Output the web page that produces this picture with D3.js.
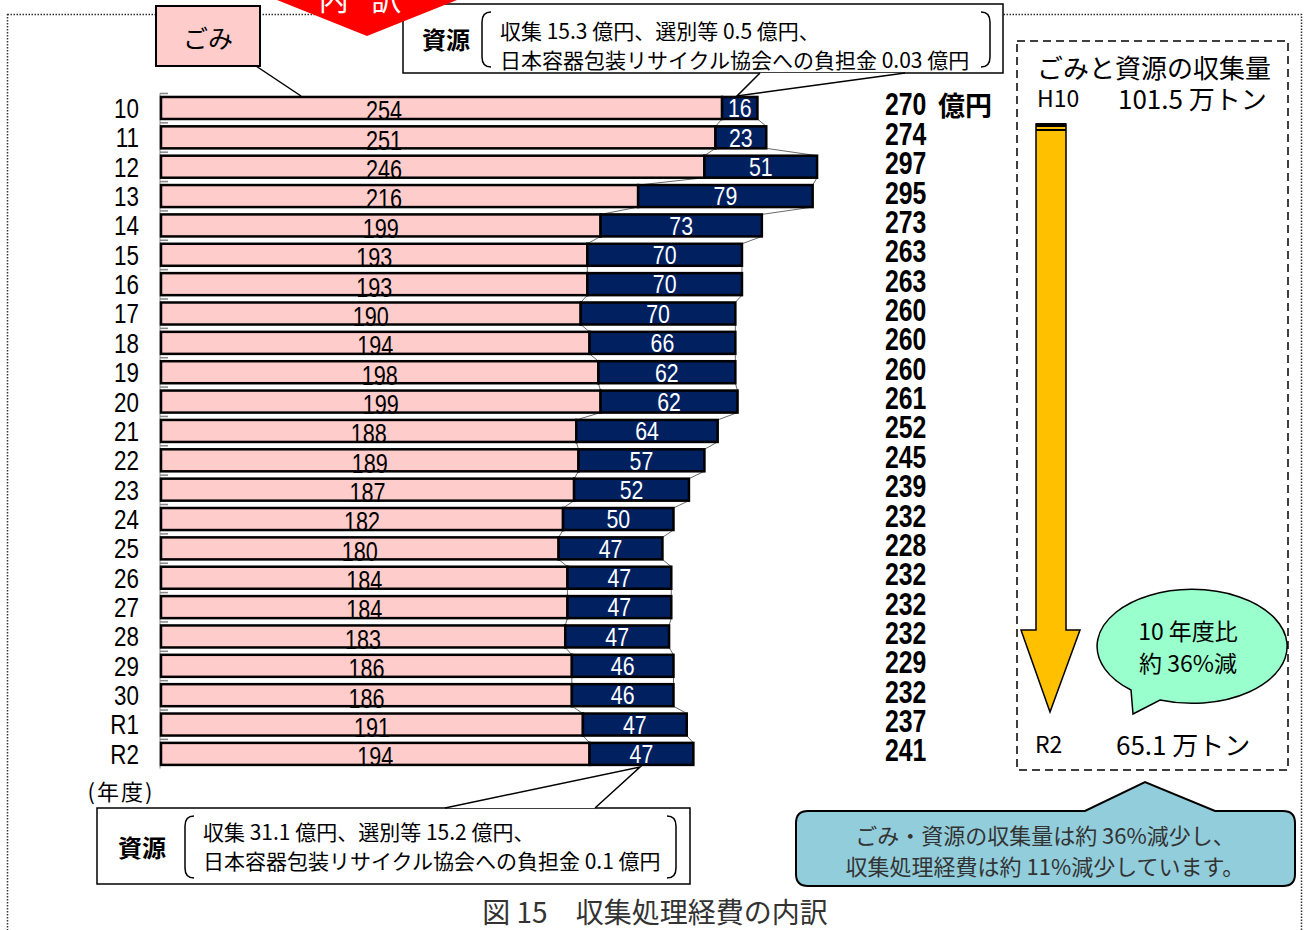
<!DOCTYPE html>
<html><head><meta charset="utf-8">
<script src="https://cdn.jsdelivr.net/npm/d3@7"></script>
<style>body{margin:0;background:#fff}svg{display:block}</style>
</head><body>
<svg id="c" width="1306" height="930"></svg>
<script>
const categories = ["10","11","12","13","14","15","16","17","18","19","20","21","22","23","24","25","26","27","28","29","30","R1","R2"];
const garbage  = [254,251,246,216,199,193,193,190,194,198,199,188,189,187,182,180,184,184,183,186,186,191,194];
const resource = [16,23,51,79,73,70,70,70,66,62,62,64,57,52,50,47,47,47,47,46,46,47,47];
const totals   = [270,274,297,295,273,263,263,260,260,260,261,252,245,239,232,228,232,232,232,229,232,237,241];
const totalUnit = "億円";
const topNote = ["収集 15.3 億円、選別等 0.5 億円、","日本容器包装リサイクル協会への負担金 0.03 億円"];
const bottomNote = ["収集 31.1 億円、選別等 15.2 億円、","日本容器包装リサイクル協会への負担金 0.1 億円"];
const volumeTitle = "ごみと資源の収集量";
const volumeStart = ["H10","101.5 万トン"];
const volumeEnd = ["R2","65.1 万トン"];
const bubbleText = ["10 年度比","約 36%減"];
const summaryText = ["ごみ・資源の収集量は約 36%減少し、","収集処理経費は約 11%減少しています。"];
const chartTitle = "図 15　収集処理経費の内訳";

const JP = "'Noto Sans CJK JP', sans-serif";
const NUM = "'Liberation Sans', Arial, sans-serif";
const PINK = "#ffcccc", NAVY = "#002060";

const svg = d3.select("#c");
const data = categories.map((c,i)=>({c, g:garbage[i], r:resource[i], t:totals[i]}));

const x = d3.scaleLinear().domain([0,300]).range([161, 161+300*2.209]);
const y = d3.scaleBand().domain(categories).range([93.3, 93.3+23*29.36]).paddingInner(0.25).paddingOuter(0.125);
const bh = y.bandwidth();

// condensed numeric text helper
function numText(sel, fx, fy, txt, opts){
  const g = sel.selectAll(null).data(data).join("g")
    .attr("transform", d=>`translate(${fx(d)},${fy(d)}) scale(${opts.sx},1)`);
  g.append("text").attr("text-anchor",opts.anchor||"middle").attr("dominant-baseline","central")
    .attr("font-family",NUM).attr("font-size",opts.fs).attr("font-weight",opts.bold?"bold":"normal")
    .attr("fill",opts.fill||"#000").text(txt);
}

// outer dotted frame
svg.append("rect").attr("x",7.5).attr("y",14.5).attr("width",1294).attr("height",940)
  .attr("fill","none").attr("stroke","#333").attr("stroke-width",1.5).attr("stroke-dasharray","1.5,1.5");

// axis line + ticks
svg.append("line").attr("x1",160).attr("x2",160).attr("y1",y.range()[0]).attr("y2",y.range()[1])
  .attr("stroke","#888").attr("stroke-width",1);
svg.append("g").selectAll("line").data(data).join("line")
  .attr("x1",160).attr("x2",168)
  .attr("y1",d=>y(d.c)-3.5).attr("y2",d=>y(d.c)-3.5)
  .attr("stroke","#888").attr("stroke-width",1.5);

// series lines
const pairs = d3.pairs(data);
const sl = svg.append("g").attr("stroke","#444").attr("stroke-width",0.8);
sl.selectAll(".a").data(pairs).join("line")
  .attr("x1",p=>x(p[0].g)).attr("y1",p=>y(p[0].c)+bh)
  .attr("x2",p=>x(p[1].g)).attr("y2",p=>y(p[1].c));
sl.selectAll(".b").data(pairs).join("line")
  .attr("x1",p=>x(p[0].g+p[0].r)).attr("y1",p=>y(p[0].c)+bh)
  .attr("x2",p=>x(p[1].g+p[1].r)).attr("y2",p=>y(p[1].c));

// bars
const bars = svg.append("g");
bars.selectAll(".g").data(data).join("rect")
  .attr("x",x(0)).attr("y",d=>y(d.c)).attr("width",d=>x(d.g)-x(0)).attr("height",bh)
  .attr("fill",PINK).attr("stroke","#000").attr("stroke-width",2.5);
bars.selectAll(".r").data(data).join("rect")
  .attr("x",d=>x(d.g)).attr("y",d=>y(d.c)).attr("width",d=>x(d.g+d.r)-x(d.g)).attr("height",bh)
  .attr("fill",NAVY).attr("stroke","#000").attr("stroke-width",2.5);

// bar labels
numText(svg.append("g"), d=>x(Math.min(d.g/2,101)), d=>y(d.c)+bh/2+3, d=>d.g, {sx:0.8, fs:27});
numText(svg.append("g"), d=>x(d.g+d.r/2), d=>y(d.c)+bh/2, d=>d.r, {sx:0.82, fs:26, fill:"#fff"});

// category labels
numText(svg.append("g"), d=>139, d=>y(d.c)+bh/2, d=>d.c, {sx:0.8, fs:28, anchor:"end"});
svg.append("text").attr("x",121).attr("y",790).attr("text-anchor","middle").attr("dominant-baseline","central")
  .attr("font-family",JP).attr("font-size",22).attr("letter-spacing",2).text("(年度)");

// totals
numText(svg.append("g"), d=>885, d=>y(d.c)+bh/2-3, d=>d.t, {sx:0.8, fs:31, anchor:"start", bold:true});
svg.append("text").attr("x",938).attr("y",y(categories[0])+bh/2-3).attr("dominant-baseline","central")
  .attr("font-weight","bold").attr("font-family",JP).attr("font-size",27).text(totalUnit);

// ごみ label box
svg.append("line").attr("x1",256).attr("y1",66).attr("x2",301).attr("y2",96).attr("stroke","#000").attr("stroke-width",1.5);
svg.append("rect").attr("x",156).attr("y",6).attr("width",104).attr("height",60)
  .attr("fill",PINK).attr("stroke","#000").attr("stroke-width",2);
svg.append("text").attr("x",208).attr("y",37).attr("text-anchor","middle").attr("dominant-baseline","central")
  .attr("font-family",JP).attr("font-size",25).text("ごみ");

// callout helper
function callout(bx,by,bw,bhh,pts,lines,lx,ly1,ly2,hx,fs,brL,brR){
  const g = svg.append("g");
  g.append("rect").attr("x",bx).attr("y",by).attr("width",bw).attr("height",bhh).attr("fill","#fff").attr("stroke","#000").attr("stroke-width",1.5);
  g.append("path").attr("d",`M${pts[0][0]},${pts[0][1]}L${pts[1][0]},${pts[1][1]}L${pts[2][0]},${pts[2][1]}Z`).attr("fill","#fff").attr("stroke","none");
  g.append("path").attr("d",`M${pts[0][0]},${pts[0][1]}L${pts[1][0]},${pts[1][1]}L${pts[2][0]},${pts[2][1]}`).attr("fill","none").attr("stroke","#000").attr("stroke-width",1.5);
  g.append("text").attr("x",hx).attr("y",by+bhh/2).attr("text-anchor","middle").attr("dominant-baseline","central")
   .attr("font-family",JP).attr("font-weight","bold").attr("font-size",24).text("資源");
  const t=by+8, b=by+bhh-6;
  g.append("path").attr("d",`M${brL+9},${t}Q${brL},${t} ${brL},${t+10}L${brL},${b-10}Q${brL},${b} ${brL+9},${b}`).attr("fill","none").attr("stroke","#000").attr("stroke-width",1.5);
  g.append("path").attr("d",`M${brR-9},${t}Q${brR},${t} ${brR},${t+10}L${brR},${b-10}Q${brR},${b} ${brR-9},${b}`).attr("fill","none").attr("stroke","#000").attr("stroke-width",1.5);
  g.selectAll(".l").data(lines).join("text").attr("x",lx).attr("y",(d,i)=>i?ly2:ly1).attr("dominant-baseline","central")
   .attr("font-family",JP).attr("font-size",fs).text(d=>d);
}
callout(403,4,600,69,[[760,73],[737,96],[905,73]],topNote,500,30,59,446,21,482,990);
callout(97,808,593,76,[[445,808],[640,767],[595,808]],bottomNote,203,831,860,142,21,185,676);

// red heading shape
svg.append("path").attr("d","M277,-5L277,0L367,36L457,0L457,-5Z").attr("fill","#ff0000");
svg.append("text").attr("x",364).attr("y",-3).attr("text-anchor","middle").attr("dominant-baseline","central")
  .attr("font-family",JP).attr("font-size",30).attr("fill","#fff").attr("letter-spacing",8).text("内 訳");

// right dashed box
const rb = svg.append("g");
rb.append("rect").attr("x",1017).attr("y",41).attr("width",271).attr("height",729)
  .attr("fill","none").attr("stroke","#000").attr("stroke-width",1.5).attr("stroke-dasharray","8,5");
rb.append("text").attr("x",1037).attr("y",66).attr("dominant-baseline","central").attr("font-family",JP).attr("font-size",26).text(volumeTitle);
rb.append("text").attr("x",1037).attr("y",97).attr("dominant-baseline","central").attr("font-family",JP).attr("font-size",23).text(volumeStart[0]);
rb.append("text").attr("x",1118).attr("y",97).attr("dominant-baseline","central").attr("font-family",JP).attr("font-size",26).text(volumeStart[1]);
rb.append("text").attr("x",1035).attr("y",743).attr("dominant-baseline","central").attr("font-family",JP).attr("font-size",23).text(volumeEnd[0]);
rb.append("text").attr("x",1116).attr("y",743).attr("dominant-baseline","central").attr("font-family",JP).attr("font-size",26).text(volumeEnd[1]);
// arrow
rb.append("path").attr("d","M1036,124L1066,124L1066,630L1080,630L1050,712L1021,630L1036,630Z")
  .attr("fill","#ffc000").attr("stroke","#000").attr("stroke-width",1.5).attr("stroke-linejoin","miter");
rb.append("rect").attr("x",1036).attr("y",123).attr("width",30).attr("height",4).attr("fill","#000");
rb.append("rect").attr("x",1036).attr("y",129).attr("width",30).attr("height",2).attr("fill","#000");
// bubble
rb.append("path").attr("d","M1160,700A95 57 0 1 0 1131,690L1133,714Z")
  .attr("fill","#99ffcc").attr("stroke","#000").attr("stroke-width",1.5);
rb.selectAll(".bt").data(bubbleText).join("text").attr("x",1188).attr("y",(d,i)=>630+i*32)
  .attr("text-anchor","middle").attr("dominant-baseline","central").attr("font-family",JP).attr("font-size",23).text(d=>d);

// blue summary callout
svg.append("path").attr("d","M808,811L1085,811L1145,782L1215,811L1283,811Q1295,811 1295,823L1295,874Q1295,886 1283,886L808,886Q796,886 796,874L796,823Q796,811 808,811Z")
  .attr("fill","#92cddc").attr("stroke","#000").attr("stroke-width",2);
svg.selectAll(".st").data(summaryText).join("text").attr("x",1045).attr("y",(d,i)=>834+i*31)
  .attr("text-anchor","middle").attr("dominant-baseline","central").attr("font-family",JP).attr("font-size",22).attr("fill","#333").text(d=>d);

// title
svg.append("text").attr("x",655).attr("y",911).attr("text-anchor","middle").attr("dominant-baseline","central")
  .attr("font-family",JP).attr("font-size",28).attr("fill","#333").text(chartTitle);
</script>
</body></html>
